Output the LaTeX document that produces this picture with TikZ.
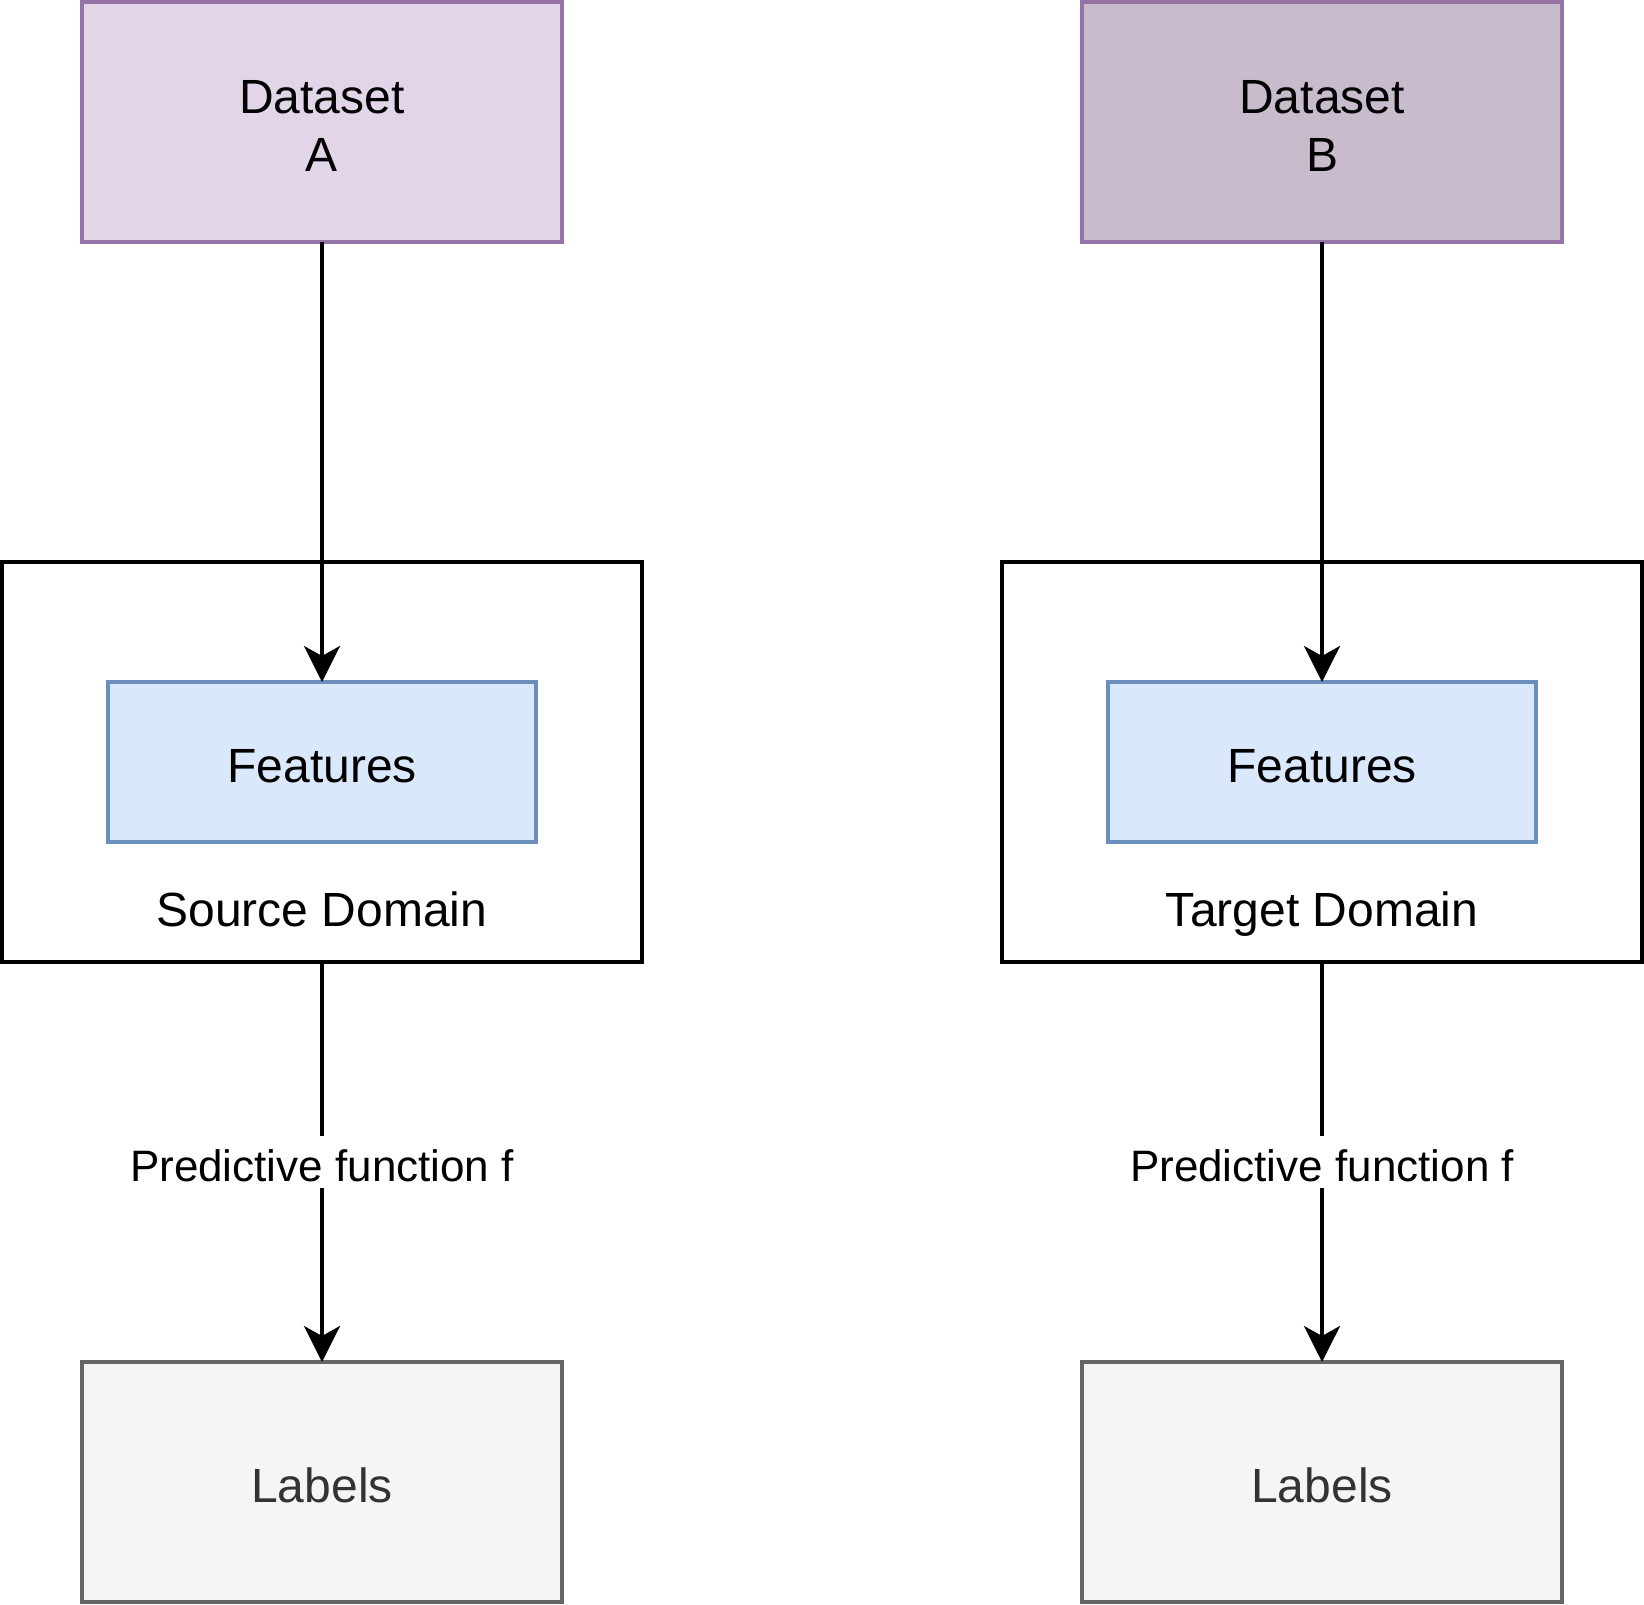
\documentclass[tikz,border=0pt]{standalone}
\usepackage{fontspec}
\setmainfont{Liberation Sans}
\usetikzlibrary{arrows.meta}
\definecolor{dsAfill}{HTML}{E1D5E7}
\definecolor{dsstroke}{HTML}{9673A6}
\definecolor{dsBfill}{HTML}{C8BBCC}
\definecolor{featfill}{HTML}{DAE8FC}
\definecolor{featstroke}{HTML}{6C8EBF}
\definecolor{labfill}{HTML}{F5F5F5}
\definecolor{labstroke}{HTML}{666666}
\definecolor{labtext}{HTML}{333333}
\begin{document}
\begin{tikzpicture}[x=1pt,y=-1pt,
  box/.style={draw, line width=1pt, inner sep=0pt, outer sep=0pt, font=\fontsize{12}{14.4}\selectfont, align=center},
  dsbox/.style={box, draw=dsstroke, minimum width=120pt, minimum height=60pt, text height=24.6pt, text depth=0pt},
  domainbox/.style={box, draw=black, fill=white, minimum width=160pt, minimum height=100pt},
  featbox/.style={box, draw=featstroke, fill=featfill, minimum width=107pt, minimum height=40pt, text height=10.3pt, text depth=0pt},
  labbox/.style={box, draw=labstroke, fill=labfill, text=labtext, minimum width=120pt, minimum height=60pt, text height=10.3pt, text depth=0pt},
  domlabel/.style={anchor=base, inner sep=0pt, font=\fontsize{12}{14.4}\selectfont},
  edgelabel/.style={fill=white, inner xsep=2.5pt, inner ysep=1.7pt, text height=9.6pt, text depth=0pt, font=\fontsize{11}{13.2}\selectfont},
  conn/.style={line width=1pt, -{Stealth[length=9pt,width=9pt,inset=2.5pt]}}
]
\useasboundingbox[fill=white] (-0.5,-0.5) rectangle (410.5,400.5);

% left column
\node[dsbox, fill=dsAfill] (dsA) at (80,30) {Dataset\\A};
\node[domainbox] (srcdom) at (80,190) {};
\node[domlabel] (srclbl) at (80,231) {Source Domain};
\node[featbox] (featA) at (80,190) {Features};
\node[labbox] (labA) at (80,370) {Labels};

% right column
\node[dsbox, fill=dsBfill] (dsB) at (330,30) {Dataset\\B};
\node[domainbox] (tgtdom) at (330,190) {};
\node[domlabel] (tgtlbl) at (330,231) {Target Domain};
\node[featbox] (featB) at (330,190) {Features};
\node[labbox] (labB) at (330,370) {Labels};

% connectors
\draw[conn] (dsA.south) -- (featA.north);
\draw[conn] (dsB.south) -- (featB.north);
\draw[conn] (srcdom.south) -- node[edgelabel] (predA) {Predictive function f} (labA.north);
\draw[conn] (tgtdom.south) -- node[edgelabel] (predB) {Predictive function f} (labB.north);
\end{tikzpicture}
\end{document}
